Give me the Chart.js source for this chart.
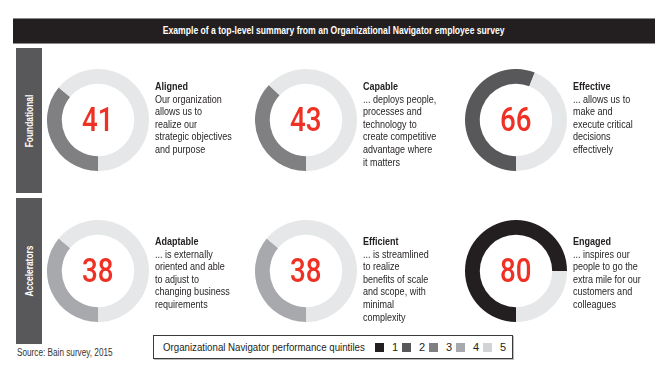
<!DOCTYPE html>
<html>
<head>
<meta charset="utf-8">
<script src="https://cdn.jsdelivr.net/npm/chart.js@4.4.1/dist/chart.umd.min.js"></script>
<style>
  html,body{margin:0;padding:0;background:#fff;}
  #wrap{position:relative;width:667px;height:380px;overflow:hidden;background:#fff;
        font-family:"Liberation Sans",Arial,sans-serif;color:#231f20;}
  .abs{position:absolute;}
  .nar{display:inline-block;transform:scaleX(0.82);transform-origin:0 0;white-space:pre;}
  #header{left:13px;top:18px;width:642px;height:24px;background:#231f20;color:#fff;
          border-top:1px solid #8a8a8a;border-bottom:1px solid #8a8a8a;
          font-weight:bold;font-size:10px;line-height:24px;text-align:center;}
  #header span{display:inline-block;transform:scaleX(0.86);transform-origin:50% 50%;white-space:nowrap;}
  .side{left:16px;width:26px;background:#58585a;}
  .side span{position:absolute;left:50%;top:50%;transform:translate(-50%,-50%) rotate(-90deg) scaleX(0.84);
             color:#fff;font-weight:bold;font-size:10px;white-space:nowrap;}
  .num{width:102px;height:102px;line-height:102px;text-align:center;color:#ee3124;
       font-family:Roboto,sans-serif;font-weight:500;font-size:33px;}
  .num span{display:inline-block;transform:scaleX(0.84);}
  .desc{font-size:11px;line-height:12.6px;color:#231f20;}
  #legend{left:153px;top:335px;width:358px;height:22px;border:1px solid #3a3a3a;
          box-shadow:1px 1px 0 #bdbdbd;font-size:11px;line-height:22px;}
  #legend .nar{transform:scaleX(0.88);}
  .sw{position:absolute;top:7px;width:9px;height:9px;}
  .lt{position:absolute;top:0;}
  #source{left:17px;top:347px;font-size:10px;color:#333;}
</style>
</head>
<body>
<div id="wrap">
  <div id="header" class="abs"><span id="htxt"></span></div>
  <div id="legend" class="abs"></div>
  <div id="source" class="abs"><span class="nar" id="stxt"></span></div>
</div>
<script>
// ---- data ----
const title = 'Example of a top-level summary from an Organizational Navigator employee survey';
const groups = ['Foundational', 'Accelerators'];
const categories = ['Aligned', 'Capable', 'Effective', 'Adaptable', 'Efficient', 'Engaged'];
const scores = [41, 43, 66, 38, 38, 80];
const arcShare = [36, 37, 56, 36, 36, 75];   // filled share of each ring (%)
const quintiles = [3, 3, 2, 4, 4, 1];
const descriptions = [
  'Our organization\nallows us to\nrealize our\nstrategic objectives\nand purpose',
  '... deploys people,\nprocesses and\ntechnology to\ncreate competitive\nadvantage where\nit matters',
  '... allows us to\nmake and\nexecute critical\ndecisions\neffectively',
  '... is externally\noriented and able\nto adjust to\nchanging business\nrequirements',
  '... is streamlined\nto realize\nbenefits of scale\nand scope, with\nminimal\ncomplexity',
  '... inspires our\npeople to go the\nextra mile for our\ncustomers and\ncolleagues'
];
const legendTitle = 'Organizational Navigator performance quintiles';
const legendLabels = ['1', '2', '3', '4', '5'];
const source = 'Source: Bain survey, 2015';

// ---- styling ----
const quintileColors = ['#231f20', '#58585a', '#808083', '#a7a9ac', '#d1d3d4'];
const restColor = '#e6e7e8';
const centers = [[98,120],[306,120],[516,120],[98,271],[306,271],[516,271]];
const descPos = [[155,80],[363,80],[573,80],[155,235],[363,235],[573,235]];
const sideBoxes = [[48,145],[198,146]];
const R = 51;

const wrap = document.getElementById('wrap');
document.getElementById('htxt').textContent = title;
document.getElementById('stxt').textContent = source;

groups.forEach((g, i) => {
  const d = document.createElement('div');
  d.className = 'abs side';
  d.style.top = sideBoxes[i][0] + 'px';
  d.style.height = sideBoxes[i][1] + 'px';
  const s = document.createElement('span');
  s.textContent = g;
  d.appendChild(s);
  wrap.appendChild(d);
});

categories.forEach((cat, i) => {
  const [cx, cy] = centers[i];
  const c = document.createElement('canvas');
  c.width = 2 * R; c.height = 2 * R;
  c.className = 'abs';
  c.style.left = (cx - R) + 'px';
  c.style.top = (cy - R) + 'px';
  c.style.width = 2 * R + 'px';
  c.style.height = 2 * R + 'px';
  wrap.appendChild(c);
  new Chart(c, {
    type: 'doughnut',
    data: {
      labels: [cat, ''],
      datasets: [{
        data: [arcShare[i], 100 - arcShare[i]],
        backgroundColor: [quintileColors[quintiles[i] - 1], restColor],
        borderWidth: 0
      }]
    },
    options: {
      responsive: false,
      animation: false,
      events: [],
      rotation: 180,
      cutout: '71%',
      layout: { padding: 0 },
      plugins: { legend: { display: false }, tooltip: { enabled: false } }
    }
  });
  const n = document.createElement('div');
  n.className = 'abs num';
  n.style.left = (cx - R) + 'px';
  n.style.top = (cy - R) + 'px';
  n.innerHTML = '<span>' + scores[i] + '</span>';
  wrap.appendChild(n);

  const d = document.createElement('div');
  d.className = 'abs desc';
  d.style.left = descPos[i][0] + 'px';
  d.style.top = descPos[i][1] + 'px';
  const inner = document.createElement('span');
  inner.className = 'nar';
  const b = document.createElement('b');
  b.textContent = cat;
  inner.appendChild(b);
  inner.appendChild(document.createTextNode('\n' + descriptions[i]));
  d.appendChild(inner);
  wrap.appendChild(d);
});

const lg = document.getElementById('legend');
const lt = document.createElement('span');
lt.className = 'lt';
lt.style.left = '9px';
lt.innerHTML = '<span class="nar"></span>';
lt.firstChild.textContent = legendTitle;
lg.appendChild(lt);
legendLabels.forEach((l, i) => {
  const sw = document.createElement('span');
  sw.className = 'sw';
  sw.style.left = (221 + i * 27) + 'px';
  sw.style.background = quintileColors[i];
  lg.appendChild(sw);
  const t = document.createElement('span');
  t.className = 'lt';
  t.style.left = (238 + i * 27) + 'px';
  t.textContent = l;
  lg.appendChild(t);
});
</script>
</body>
</html>
